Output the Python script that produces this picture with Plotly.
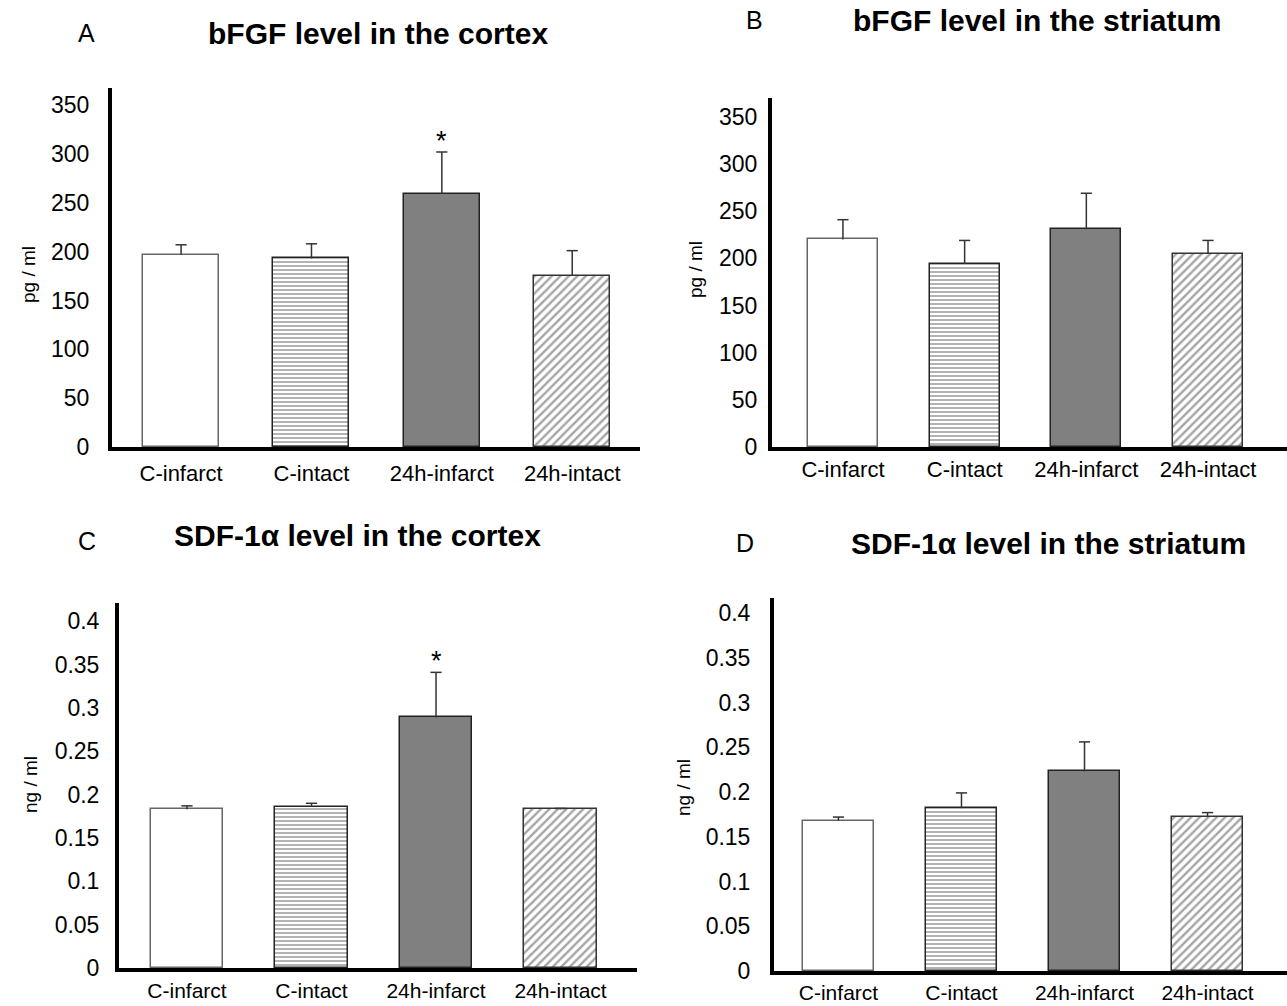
import plotly.graph_objects as go

# ---------------- data ----------------
categories = ["C-infarct", "C-intact", "24h-infarct", "24h-intact"]

bfgf_cortex_mean = [197, 193, 259, 175]
bfgf_cortex_sem = [10, 15, 43, 26]

bfgf_striatum_mean = [220, 194, 231, 205]
bfgf_striatum_sem = [21, 25, 38, 14]

sdf_cortex_mean = [0.183, 0.186, 0.289, 0.183]
sdf_cortex_sem = [0.004, 0.004, 0.052, 0.001]

sdf_striatum_mean = [0.168, 0.182, 0.223, 0.172]
sdf_striatum_sem = [0.004, 0.017, 0.033, 0.005]

bfgf_ticks = [0, 50, 100, 150, 200, 250, 300, 350]
bfgf_ticktext = ["0", "50", "100", "150", "200", "250", "300", "350"]
sdf_ticks = [0, 0.05, 0.1, 0.15, 0.2, 0.25, 0.3, 0.35, 0.4]
sdf_ticktext = ["0", "0.05", "0.1", "0.15", "0.2", "0.25", "0.3", "0.35", "0.4"]

panel_letters = ["A", "B", "C", "D"]
panel_titles = ["bFGF level in the cortex", "bFGF level in the striatum",
                "SDF-1α level in the cortex", "SDF-1α level in the striatum"]
units = ["pg / ml", "pg / ml", "ng / ml", "ng / ml"]
significant = [True, False, True, False]

# ---------------- styling ----------------
W, H = 1287, 1006
FONT = "Liberation Sans, Arial, sans-serif"

def px_x(p):
    return p / W

def px_y(p):
    return 1 - p / H

bar_fill = ["white", "white", "#808080", "white"]
bar_pattern = [
    dict(shape=""),
    dict(shape="-", fgcolor="#555555", bgcolor="white", size=4, solidity=0.45),
    dict(shape=""),
    dict(shape="/", fgcolor="#4a4a4a", bgcolor="white", size=6, solidity=0.4),
]
bar_line = ["#666666", "#222222", "#222222", "#333333"]

panels = [
    dict(means=bfgf_cortex_mean, sems=bfgf_cortex_sem, ticks=bfgf_ticks, ticktext=bfgf_ticktext,
         xd=(112, 640), xr=(-0.53, 3.52), yd=(447, 88), yr=(0, 367.5), bw=0.583,
         ystand=14, xstand=4, xfont=22,
         letter=(86, 33), title=(378, 34), ylab=(28, 275)),
    dict(means=bfgf_striatum_mean, sems=bfgf_striatum_sem, ticks=bfgf_ticks, ticktext=bfgf_ticktext,
         xd=(772, 1287), xr=(-0.583, 3.649), yd=(447, 98), yr=(0, 370), bw=0.575,
         ystand=6, xstand=0, xfont=22,
         letter=(754, 20), title=(1037, 20), ylab=(695, 270)),
    dict(means=sdf_cortex_mean, sems=sdf_cortex_sem, ticks=sdf_ticks, ticktext=sdf_ticktext,
         xd=(119, 637), xr=(-0.546, 3.614), yd=(968, 603), yr=(0, 0.421), bw=0.58,
         ystand=11, xstand=1, xfont=21,
         letter=(87, 541), title=(357, 535), ylab=(30, 785)),
    dict(means=sdf_striatum_mean, sems=sdf_striatum_sem, ticks=sdf_ticks, ticktext=sdf_ticktext,
         xd=(774, 1287), xr=(-0.524, 3.646), yd=(971, 598), yr=(0, 0.4168), bw=0.58,
         ystand=15, xstand=0, xfont=21,
         letter=(745, 543), title=(1048, 543), ylab=(683, 788)),
]

fig = go.Figure()
layout = dict(
    width=W, height=H, autosize=False,
    margin=dict(l=0, r=0, t=0, b=0, autoexpand=False),
    paper_bgcolor="white", plot_bgcolor="rgba(0,0,0,0)",
    showlegend=False, bargap=0,
    font=dict(family=FONT, color="black"),
)
annotations = []

for i, p in enumerate(panels):
    k = "" if i == 0 else str(i + 1)
    xa, ya = "x" + k, "y" + k
    positions = list(range(len(categories)))
    for j in range(len(categories)):
        fig.add_trace(go.Bar(
            x=[positions[j]], y=[p["means"][j]],
            width=p["bw"],
            marker=dict(color=bar_fill[j], pattern=bar_pattern[j],
                        line=dict(color=bar_line[j], width=1.5)),
            xaxis=xa, yaxis=ya, hoverinfo="skip",
        ))
    # upward-only error bars: stem from bar top to mean+sem, cap at top
    ex, ey = [], []
    for j in range(len(categories)):
        ex += [positions[j], positions[j], None]
        ey += [p["means"][j], p["means"][j] + p["sems"][j], None]
    fig.add_trace(go.Scatter(x=ex, y=ey, mode="lines",
                             line=dict(color="#333333", width=1.5),
                             xaxis=xa, yaxis=ya, hoverinfo="skip"))
    fig.add_trace(go.Scatter(x=positions,
                             y=[m + s for m, s in zip(p["means"], p["sems"])],
                             mode="markers",
                             marker=dict(symbol="line-ew", size=8,
                                         line=dict(color="#333333", width=1.5)),
                             xaxis=xa, yaxis=ya, hoverinfo="skip"))
    layout["xaxis" + k] = dict(
        domain=[px_x(p["xd"][0]), px_x(p["xd"][1])], anchor=ya,
        range=list(p["xr"]), showline=True, linewidth=4, linecolor="black",
        tickvals=positions, ticktext=categories, ticks="",
        ticklabelstandoff=p["xstand"], automargin=False,
        tickfont=dict(family=FONT, size=p["xfont"], color="black"),
        showgrid=False, zeroline=False, fixedrange=True,
    )
    layout["yaxis" + k] = dict(
        domain=[px_y(p["yd"][0]), px_y(p["yd"][1])], anchor=xa,
        range=list(p["yr"]), showline=True, linewidth=4, linecolor="black",
        tickvals=p["ticks"], ticktext=p["ticktext"], ticks="",
        ticklabelstandoff=p["ystand"], automargin=False,
        tickfont=dict(family=FONT, size=23, color="black"),
        showgrid=False, zeroline=False, fixedrange=True,
    )
    annotations.append(dict(text=panel_letters[i], xref="paper", yref="paper",
                            x=px_x(p["letter"][0]), y=px_y(p["letter"][1]),
                            xanchor="center", yanchor="middle", showarrow=False,
                            font=dict(family=FONT, size=25, color="black")))
    annotations.append(dict(text="<b>" + panel_titles[i] + "</b>", xref="paper", yref="paper",
                            x=px_x(p["title"][0]), y=px_y(p["title"][1]),
                            xanchor="center", yanchor="middle", showarrow=False,
                            font=dict(family=FONT, size=30, color="black")))
    annotations.append(dict(text=units[i], xref="paper", yref="paper",
                            x=px_x(p["ylab"][0]), y=px_y(p["ylab"][1]),
                            xanchor="center", yanchor="middle", showarrow=False, textangle=-90,
                            font=dict(family=FONT, size=19, color="black")))
    if significant[i]:
        j = categories.index("24h-infarct")
        annotations.append(dict(text="*", xref=xa, yref=ya,
                                x=positions[j], y=p["means"][j] + p["sems"][j],
                                xanchor="center", yanchor="bottom", showarrow=False,
                                yshift=-6,
                                font=dict(family=FONT, size=27, color="black")))

layout["annotations"] = annotations
fig.update_layout(**layout)
fig.write_html("out.html", config={"displayModeBar": False},
               post_script="document.body.style.margin='0px';")
